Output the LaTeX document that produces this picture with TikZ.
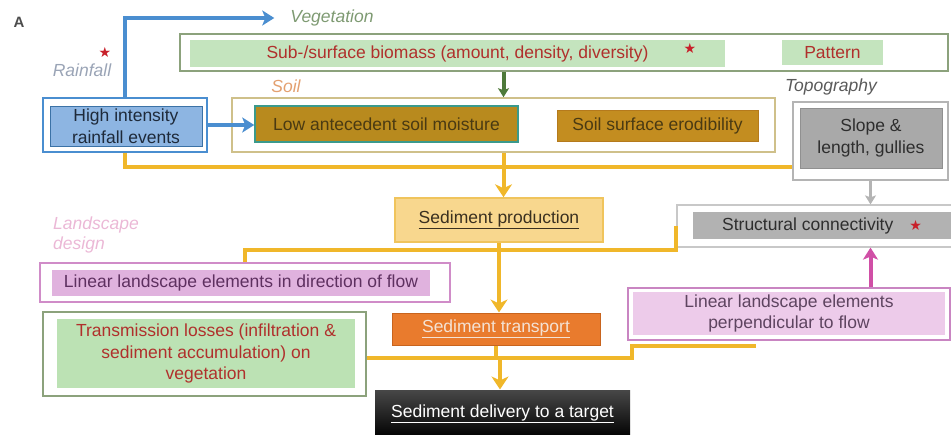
\documentclass[tikz,border=0pt]{standalone}
\usepackage{fontspec}
\setmainfont{Liberation Sans}
\newfontfamily\symfont{DejaVu Sans}
\usepackage{xcolor}
\usepackage{tikz}
\usetikzlibrary{arrows.meta, positioning, calc}

\definecolor{rainblue}{HTML}{4A8ED0}
\definecolor{rainfill}{HTML}{8DB5E2}
\definecolor{rainink}{HTML}{1E2A3A}
\definecolor{raintag}{HTML}{9AA4B6}
\definecolor{vegline}{HTML}{8CA27C}
\definecolor{vegfill}{HTML}{C4E4BE}
\definecolor{vegink}{HTML}{B0302C}
\definecolor{vegtag}{HTML}{7E9A72}
\definecolor{vegdark}{HTML}{4E7A3A}
\definecolor{soiltag}{HTML}{E3A070}
\definecolor{soilline}{HTML}{CFC08A}
\definecolor{moistline}{HTML}{3A9A8C}
\definecolor{soilfill}{HTML}{B88A1E}
\definecolor{erodfill}{HTML}{C38D20}
\definecolor{erodline}{HTML}{B57A1C}
\definecolor{soilink}{HTML}{4A3A12}
\definecolor{topotag}{HTML}{5A5A5A}
\definecolor{topoline}{HTML}{B4B4B4}
\definecolor{topofill}{HTML}{A9A9A9}
\definecolor{topoink}{HTML}{2E2E2E}
\definecolor{flowyellow}{HTML}{F0B72A}
\definecolor{prodfill}{HTML}{F8D78E}
\definecolor{prodline}{HTML}{F0C45C}
\definecolor{prodink}{HTML}{3A3020}
\definecolor{designink}{HTML}{EBB8D6}
\definecolor{lindirline}{HTML}{D08CC8}
\definecolor{lindirfill}{HTML}{E0B2DE}
\definecolor{lindirink}{HTML}{5E3060}
\definecolor{structline}{HTML}{C8C8C8}
\definecolor{structfill}{HTML}{B2B2B2}
\definecolor{pinkline}{HTML}{D04FA6}
\definecolor{perpline}{HTML}{C985C2}
\definecolor{perpfill}{HTML}{EDCBEA}
\definecolor{perpink}{HTML}{5E4460}
\definecolor{transfill}{HTML}{E97B2D}
\definecolor{transline}{HTML}{C8641E}
\definecolor{transink}{HTML}{F4E2D4}
\definecolor{lossfill}{HTML}{BCE2B4}
\definecolor{starred}{HTML}{C8202A}

\newcommand{\redstar}{{\color{starred}\symfont\fontsize{14}{14}\selectfont ★}}

\begin{document}
\begin{tikzpicture}[
    x=1pt, y=-1pt,
    every node/.style={font=\fontsize{17.5}{21.5}\selectfont},
    frame/.style={rectangle, draw, line width=1.6pt, fill=white, inner sep=0pt},
    box/.style={rectangle, draw, line width=1pt, inner sep=0pt, align=center},
    tag/.style={inner sep=0pt, font=\fontsize{17.5}{20}\selectfont\itshape},
    flow/.style={draw=flowyellow, line width=4pt},
    flowarrow/.style={flow, -{Stealth[length=13pt, width=17pt, inset=4pt]}},
    rainarrow/.style={draw=rainblue, line width=4pt, -{Stealth[length=12pt, width=15pt, inset=3pt]}},
    vegarrow/.style={draw=vegdark, line width=4pt, -{Stealth[length=9pt, width=11pt, inset=2pt]}},
    greyarrow/.style={draw=topoline, line width=3pt, -{Stealth[length=9pt, width=11pt, inset=2pt]}},
    pinkarrow/.style={draw=pinkline, line width=4pt, -{Stealth[length=12pt, width=15pt, inset=3pt]}},
]
\useasboundingbox (0,0) rectangle (951,434);

\node[font=\fontsize{15}{15}\selectfont\bfseries, text=black!70] (panel) at (19,22) {A};

% Rainfall
\node[tag, text=raintag] (raintag) at (82,70) {Rainfall};
\node (rainstar) at (105,52) {\redstar};
\node[frame, draw=rainblue, minimum width=164, minimum height=54] (rainframe) at (125,125) {};
\node[box, draw=rainblue!80!black, fill=rainfill, text=rainink, minimum width=152, minimum height=40] (rain) at (126,126) {High intensity\\rainfall events};

% Vegetation
\node[tag, text=vegtag] (vegtag) at (332,18) {Vegetation};
\node[frame, draw=vegline, minimum width=768, minimum height=37] (vegframe) at (564,52.5) {};
\node[box, draw=none, fill=vegfill, text=vegink, minimum width=535, minimum height=27] (biomass) at (457.5,53.5) {Sub-/surface biomass (amount, density, diversity)};
\node (vegstar) at (690,48) {\redstar};
\node[box, draw=none, fill=vegfill, text=vegink, minimum width=101, minimum height=25] (pattern) at (832.5,52.5) {Pattern};

% Soil
\node[tag, text=soiltag] (soiltag) at (286,86) {Soil};
\node[frame, draw=soilline, minimum width=543, minimum height=54] (soilframe) at (503.5,125) {};
\node[box, draw=moistline, line width=1.5pt, fill=soilfill, text=soilink, minimum width=263, minimum height=36] (moisture) at (386.5,124) {Low antecedent soil moisture};
\node[box, draw=erodline, fill=erodfill, text=soilink, minimum width=201, minimum height=31] (erodibility) at (657.5,125.5) {Soil surface erodibility};

% Topography
\node[tag, text=topotag] (topotag) at (831,87) {Topography};
\node[frame, draw=topoline, minimum width=155, minimum height=78] (topoframe) at (870.5,141) {};
\node[box, draw=topoline!80!black, fill=topofill, text=topoink, minimum width=142, minimum height=60] (slope) at (871,138) {Slope \&\\length, gullies};

% Sediment cascade
\node[box, draw=prodline, line width=1.5pt, fill=prodfill, text=prodink, minimum width=208, minimum height=44] (production) at (499,220) {\underline{Sediment production}};
\node[box, draw=transline, fill=transfill, text=transink, minimum width=208, minimum height=32] (transport) at (496,329) {\underline{Sediment transport}};
\node[box, draw=none, top color=black!72, bottom color=black, text=white, minimum width=255, minimum height=48] (delivery) at (502.5,414) {\underline{Sediment delivery to a target}};

% Landscape design
\node[tag, text=designink, align=left, anchor=west] (designtag) at (53,235) {Landscape\\design};
\node[frame, draw=lindirline, minimum width=410, minimum height=39] (lindirframe) at (245,282.5) {};
\node[box, draw=none, fill=lindirfill, text=lindirink, minimum width=378, minimum height=26] (lindir) at (241,283) {Linear landscape elements in direction of flow};
\node[frame, draw=perpline, minimum width=322, minimum height=52] (perpframe) at (789,314) {};
\node[box, draw=none, fill=perpfill, text=perpink, minimum width=312, minimum height=43] (perpendicular) at (789,313.5) {Linear landscape elements\\perpendicular to flow};

% Connectivity and losses
\node[frame, draw=structline, line width=1.2pt, minimum width=275, minimum height=42] (structframe) at (814.5,226) {};
\node[box, draw=none, fill=structfill, text=topoink, minimum width=259, minimum height=27] (structural) at (822,225.5) {Structural connectivity\hspace{16pt}\redstar};
\node[frame, draw=vegline, minimum width=323, minimum height=84] (lossframe) at (204.5,354) {};
\node[box, draw=none, fill=lossfill, text=vegink, minimum width=298, minimum height=69] (losses) at (206,353.5) {Transmission losses (infiltration \&\\sediment accumulation) on\\vegetation};

% Arrows
\coordinate (j1) at (503.5,167);
\coordinate (j2) at (499,250);
\coordinate (j3) at (500,358);

\draw[rainarrow] (rainframe.north) |- ([xshift=-16pt]vegtag.west);
\draw[rainarrow] (rainframe.east) -- (rainframe.east -| moisture.west);
\draw[vegarrow] (soilframe.north |- vegframe.south) -- (soilframe.north);
\draw[greyarrow] (topoframe.south) -- (topoframe.south |- structframe.north);
\draw[pinkarrow] (perpframe.north -| topoframe.south) -- (topoframe.south |- structframe.south);

\draw[flow] (rainframe.south) |- (topoframe.west |- j1);
\draw[flow] (soilframe.south) -- (j1);
\draw[flowarrow] (j1) -- (j1 |- production.north);
\draw[flow] (production.south) -- (production.south |- j2);
\draw[flow] (lindirframe.north) |- (j2) -- (structframe.west |- j2) -- (structframe.west);
\draw[flowarrow] (j2) -- (j2 |- transport.north);
\draw[flow] (transport.south) -- (transport.south |- j3);
\draw[flow] (lossframe.east |- j3) -| ($(perpframe.south west)+(5,5)$) -- ($(perpframe.south west)+(129,5)$);
\draw[flowarrow] (j3) -- (j3 |- delivery.north);

\end{tikzpicture}
\end{document}
